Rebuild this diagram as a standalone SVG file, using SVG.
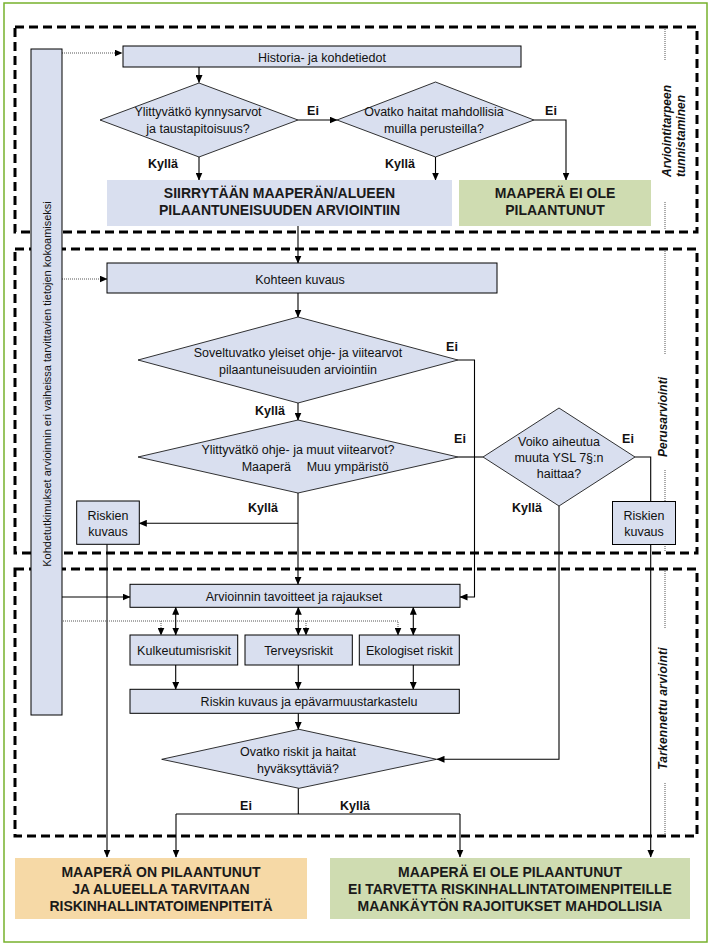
<svg xmlns="http://www.w3.org/2000/svg" width="711" height="947" viewBox="0 0 711 947">
<defs>
<marker id="ah" markerWidth="8" markerHeight="7" refX="7.5" refY="3.5" orient="auto-start-reverse" markerUnits="userSpaceOnUse">
<path d="M0,0 L8,3.5 L0,7 Z" fill="#000"/>
</marker>
<style>
.sec{fill:none;stroke:#000;stroke-width:3;stroke-dasharray:9 5}
.bx{fill:#d9dfef;stroke:#000;stroke-width:1}
.bxn{fill:#d9dfef}
.grn{fill:#cfdcb1}
.org{fill:#f6d9a6}
.dm{fill:#d9dfef;stroke:#000;stroke-width:0.8}
.ln{fill:none;stroke:#000;stroke-width:1.1}
.dot{fill:none;stroke:#555;stroke-width:1;stroke-dasharray:1 1}
.t{font-family:"Liberation Sans",Arial,sans-serif;font-size:12.5px;fill:#111;text-anchor:middle}
.ts{font-family:"Liberation Sans",Arial,sans-serif;font-size:12.5px;fill:#111;text-anchor:start}
.b{font-family:"Liberation Sans",Arial,sans-serif;font-size:12.5px;font-weight:bold;fill:#111;text-anchor:middle}
.cap{font-family:"Liberation Sans",Arial,sans-serif;font-size:14px;font-weight:bold;fill:#1a1a1a;text-anchor:middle}
.lab{font-family:"Liberation Sans",Arial,sans-serif;font-size:12px;font-weight:bold;font-style:italic;fill:#111;text-anchor:start}
.labm{font-family:"Liberation Sans",Arial,sans-serif;font-size:12px;font-weight:bold;font-style:italic;fill:#111;text-anchor:middle}
.vt{font-family:"Liberation Sans",Arial,sans-serif;font-size:11px;fill:#111;text-anchor:middle}
</style>
</defs>
<rect x="4" y="3" width="703" height="939" fill="#fff" stroke="#77b12d" stroke-width="1.5"/>

<g id="sections">
<rect class="sec" x="15" y="27" width="682" height="205"/>
<rect class="sec" x="15" y="249" width="682" height="304"/>
<rect class="sec" x="15" y="569" width="682" height="267"/>
<line class="dot" x1="665" y1="29" x2="665" y2="60"/>
<line class="dot" x1="665" y1="202" x2="665" y2="230"/>
<line class="dot" x1="665" y1="251" x2="665" y2="355"/>
<line class="dot" x1="665" y1="470" x2="665" y2="551"/>
<line class="dot" x1="665" y1="571" x2="665" y2="628"/>
<line class="dot" x1="665" y1="783" x2="665" y2="834"/>
<text class="lab" transform="translate(671,177) rotate(-90)">Arviointitarpeen</text>
<text class="lab" transform="translate(685,177) rotate(-90)">tunnistaminen</text>
<text class="labm" transform="translate(667,417) rotate(-90)">Perusarviointi</text>
<text class="labm" transform="translate(667,708.5) rotate(-90)" letter-spacing="0.2">Tarkennettu arviointi</text>
</g>

<g id="connectors">
<line class="dot" x1="62" y1="53" x2="122" y2="53" marker-end="url(#ah)"/>
<line class="ln" x1="199" y1="67" x2="199" y2="82.5" marker-end="url(#ah)"/>
<line class="ln" x1="298" y1="120" x2="337" y2="120" marker-end="url(#ah)"/>
<polyline class="ln" points="534,120 566,120 566,180" marker-end="url(#ah)"/>
<line class="ln" x1="199" y1="157" x2="199" y2="180" marker-end="url(#ah)"/>
<line class="ln" x1="435.5" y1="157" x2="435.5" y2="180" marker-end="url(#ah)"/>
<line class="ln" x1="298" y1="226" x2="298" y2="263" marker-end="url(#ah)"/>
<line class="dot" x1="62" y1="279" x2="107" y2="279" marker-end="url(#ah)"/>
<line class="ln" x1="298" y1="293" x2="298" y2="317" marker-end="url(#ah)"/>
<polyline class="ln" points="458,360 474.5,360 474.5,597 460,597" marker-end="url(#ah)"/>
<line class="ln" x1="298" y1="403" x2="298" y2="420" marker-end="url(#ah)"/>
<line class="ln" x1="458" y1="457" x2="483" y2="457"/>
<polyline class="ln" points="635,457 650.7,457 650.7,501.5"/>
<line class="ln" x1="650.7" y1="544.3" x2="650.7" y2="857" marker-end="url(#ah)"/>
<polyline class="ln" points="559,506 559,759.3 437,759.3" marker-end="url(#ah)"/>
<line class="ln" x1="298" y1="493" x2="298" y2="584.3" marker-end="url(#ah)"/>
<line class="ln" x1="298" y1="523.3" x2="139.3" y2="523.3" marker-end="url(#ah)"/>
<line class="ln" x1="107" y1="544.3" x2="107" y2="857" marker-end="url(#ah)"/>
<line class="ln" x1="62" y1="597" x2="130" y2="597" marker-end="url(#ah)"/>
<polyline class="dot" points="63,621 398,621 398,635" marker-end="url(#ah)"/>
<line class="dot" x1="161" y1="621" x2="161" y2="635" marker-end="url(#ah)"/>
<line class="dot" x1="306" y1="621" x2="306" y2="635" marker-end="url(#ah)"/>
<line class="ln" x1="175.7" y1="607.3" x2="175.7" y2="635" marker-start="url(#ah)" marker-end="url(#ah)"/>
<line class="ln" x1="298.3" y1="607.3" x2="298.3" y2="635" marker-start="url(#ah)" marker-end="url(#ah)"/>
<line class="ln" x1="413.3" y1="607.3" x2="413.3" y2="635" marker-start="url(#ah)" marker-end="url(#ah)"/>
<line class="ln" x1="175.7" y1="665" x2="175.7" y2="689.3" marker-end="url(#ah)"/>
<line class="ln" x1="298.3" y1="665" x2="298.3" y2="689.3" marker-end="url(#ah)"/>
<line class="ln" x1="413.3" y1="665" x2="413.3" y2="689.3" marker-end="url(#ah)"/>
<line class="ln" x1="298.3" y1="713.3" x2="298.3" y2="729.3" marker-end="url(#ah)"/>
<line class="ln" x1="298.3" y1="788.3" x2="298.3" y2="814"/>
<line class="ln" x1="176" y1="814" x2="460" y2="814"/>
<line class="ln" x1="176" y1="814" x2="176" y2="857" marker-end="url(#ah)"/>
<line class="ln" x1="460" y1="814" x2="460" y2="857" marker-end="url(#ah)"/>
<text class="b" x="313" y="114.5">Ei</text>
<text class="b" x="551" y="114.5">Ei</text>
<text class="b" x="163" y="167.5">Kyllä</text>
<text class="b" x="400" y="167.5">Kyllä</text>
<text class="b" x="452" y="350.5">Ei</text>
<text class="b" x="270" y="414.5">Kyllä</text>
<text class="b" x="460" y="442.5">Ei</text>
<text class="b" x="628" y="442.5">Ei</text>
<text class="b" x="263" y="511.5">Kyllä</text>
<text class="b" x="527" y="511.5">Kyllä</text>
<text class="b" x="246" y="809.5">Ei</text>
<text class="b" x="355" y="809.5">Kyllä</text>
</g>

<g id="n-kohdetutkimukset">
<rect class="bx" x="31" y="49" width="31" height="666"/>
<text class="vt" transform="translate(50.5,384) rotate(-90)">Kohdetutkimukset arvioinnin eri vaiheissa  tarvittavien tietojen kokoamiseksi</text>
</g>
<g id="n-historia">
<rect class="bx" x="123" y="46" width="398" height="21"/>
<text class="t" x="322" y="61.5">Historia- ja kohdetiedot</text>
</g>
<g id="n-d1">
<polygon class="dm" points="100,120 199,83 298,120 199,157"/>
<text class="t" x="198" y="116">Ylittyvätkö kynnysarvot</text>
<text class="t" x="198" y="132.5">ja taustapitoisuus?</text>
</g>
<g id="n-d2">
<polygon class="dm" points="337,120 435.5,82 534,120 435.5,157"/>
<text class="t" x="434" y="116">Ovatko haitat mahdollisia</text>
<text class="t" x="434" y="132.5">muilla perusteilla?</text>
</g>
<g id="n-siirrytaan">
<rect class="bxn" x="107" y="180" width="345" height="46"/>
<text class="cap" x="279.5" y="198">SIIRRYTÄÄN MAAPERÄN/ALUEEN</text>
<text class="cap" x="279.5" y="215">PILAANTUNEISUUDEN ARVIOINTIIN</text>
</g>
<g id="n-ei-pilaantunut1">
<rect class="grn" x="459" y="180" width="192" height="46"/>
<text class="cap" x="555" y="198">MAAPERÄ EI OLE</text>
<text class="cap" x="555" y="215">PILAANTUNUT</text>
</g>
<g id="n-kohteen">
<rect class="bx" x="107" y="263" width="390" height="30"/>
<text class="t" x="300" y="283.5">Kohteen kuvaus</text>
</g>
<g id="n-d3">
<polygon class="dm" points="138,360 298,317 458,360 298,403"/>
<text class="t" x="298" y="357">Soveltuvatko yleiset ohje- ja viitearvot</text>
<text class="t" x="298" y="374">pilaantuneisuuden arviointiin</text>
</g>
<g id="n-d4">
<polygon class="dm" points="138,457 298,420 458,457 298,493"/>
<text class="t" x="298" y="453.5">Ylittyvätkö ohje- ja muut viitearvot?</text>
<text class="ts" x="241.7" y="470.5">Maaperä</text>
<text class="ts" x="306.7" y="470.5">Muu ympäristö</text>
</g>
<g id="n-d5">
<polygon class="dm" points="483,457 559,408 635,457 559,506"/>
<text class="t" x="559" y="446">Voiko aiheutua</text>
<text class="t" x="559" y="462">muuta YSL 7§:n</text>
<text class="t" x="559" y="478">haittaa?</text>
</g>
<g id="n-riskien1">
<rect class="bx" x="76.7" y="501" width="62.6" height="43.3"/>
<text class="t" x="108" y="519.5">Riskien</text>
<text class="t" x="108" y="536">kuvaus</text>
</g>
<g id="n-riskien2">
<rect class="bx" x="612.5" y="501.5" width="63" height="43"/>
<text class="t" x="644" y="519.5">Riskien</text>
<text class="t" x="644" y="536">kuvaus</text>
</g>
<g id="n-arvioinnin">
<rect class="bx" x="130" y="584.3" width="330" height="23"/>
<text class="t" x="294" y="600.5">Arvioinnin tavoitteet ja rajaukset</text>
</g>
<g id="n-kulkeutumis">
<rect class="bx" x="130" y="635" width="107.7" height="30"/>
<text class="t" x="184" y="654.5">Kulkeutumisriskit</text>
</g>
<g id="n-terveys">
<rect class="bx" x="245" y="635" width="107.3" height="30"/>
<text class="t" x="298.7" y="654.5">Terveysriskit</text>
</g>
<g id="n-ekologiset">
<rect class="bx" x="359.3" y="635" width="100" height="30"/>
<text class="t" x="409.3" y="654.5">Ekologiset riskit</text>
</g>
<g id="n-riskin">
<rect class="bx" x="130" y="689.3" width="329.3" height="24"/>
<text class="t" x="309" y="705.5">Riskin kuvaus ja epävarmuustarkastelu</text>
</g>
<g id="n-d6">
<polygon class="dm" points="161.7,759.3 299,729.3 436.7,759.3 299,788.3"/>
<text class="t" x="298" y="755.5">Ovatko riskit ja haitat</text>
<text class="t" x="298" y="772.8">hyväksyttäviä?</text>
</g>
<g id="n-pilaantunut">
<rect class="org" x="15" y="858" width="292" height="61"/>
<text class="cap" x="161" y="877">MAAPERÄ ON PILAANTUNUT</text>
<text class="cap" x="161" y="894">JA ALUEELLA TARVITAAN</text>
<text class="cap" x="161" y="910.5">RISKINHALLINTATOIMENPITEITÄ</text>
</g>
<g id="n-ei-pilaantunut2">
<rect class="grn" x="330" y="858" width="360" height="61"/>
<text class="cap" x="510" y="877">MAAPERÄ EI OLE PILAANTUNUT</text>
<text class="cap" x="510" y="894">EI TARVETTA RISKINHALLINTATOIMENPITEILLE</text>
<text class="cap" x="510" y="910.5">MAANKÄYTÖN RAJOITUKSET MAHDOLLISIA</text>
</g>
</svg>
